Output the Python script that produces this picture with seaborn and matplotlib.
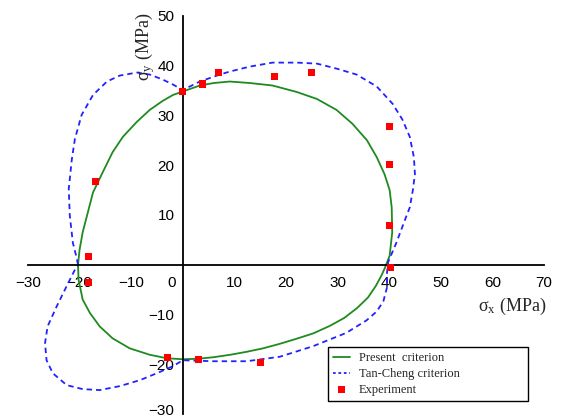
import numpy as np
import pandas as pd
import matplotlib
matplotlib.use("Agg")
import matplotlib.pyplot as plt
import matplotlib.transforms as mtransforms
import seaborn as sns

# Present criterion (closed curve)
present_x = [-20.3, -20.0, -19.4, -18.4, -17.4, -15.5, -13.6, -11.6, -8.9, -6.4, -3.9,
             -1.9, 0.0, 3.3, 6.0, 9.1, 13.0, 17.4, 22.1, 26.0, 29.8, 32.9, 35.7, 37.6,
             39.1, 40.1, 40.5, 40.6, 40.1, 39.2, 38.5, 37.4, 35.9, 33.8, 31.3, 28.5,
             25.3, 22.0, 18.8, 15.6, 12.4, 9.2, 5.9, 3.0, 0.0, -3.1, -6.4, -10.3, -13.6,
             -16.1, -18.0, -19.4, -20.2, -20.3]
present_y = [0.0, 3.0, 6.5, 10.5, 14.5, 18.6, 22.6, 25.7, 28.7, 31.1, 32.9,
             34.1, 34.8, 36.0, 36.5, 36.8, 36.5, 36.0, 34.7, 33.3, 31.1, 28.3, 25.0, 21.6,
             18.2, 15.0, 11.5, 6.5, 1.8, -0.6, -2.2, -4.3, -6.6, -8.7, -10.7, -12.3,
             -13.8, -14.9, -15.9, -16.8, -17.5, -18.1, -18.6, -18.9, -19.0, -18.8, -18.1, -16.8, -14.8,
             -12.4, -9.7, -7.0, -3.0, 0.0]

# Tan-Cheng criterion (closed curve)
tan_x = [-20.3, -20.6, -21.3, -21.9, -22.1, -21.5, -20.9, -19.6, -17.4, -14.7, -12.2,
         -8.9, -6.4, -3.9, -1.9, 0.0, 3.3, 7.2, 9.1, 13.0, 17.4, 22.1, 26.0, 29.8,
         33.7, 37.6, 40.7, 42.6, 44.0, 44.8, 45.0, 44.6, 44.0, 43.4, 41.4, 39.8,
         39.6, 39.6, 38.9, 37.6, 35.6, 31.7, 25.2, 18.8, 12.4, 5.9, 0.0, -1.9, -5.0, -8.3,
         -12.2, -16.1, -19.4, -22.5, -25.2, -26.4, -26.7, -26.2, -24.4, -22.5, -20.9,
         -20.3]
tan_y = [0.0, 1.5, 4.4, 9.9, 15.2, 21.2, 25.3, 30.1, 34.1, 36.8, 38.0,
         38.6, 38.2, 37.2, 36.2, 35.1, 36.8, 38.2, 38.8, 39.8, 40.6, 40.6, 40.4, 39.4,
         38.2, 35.8, 32.3, 29.1, 25.7, 21.6, 18.2, 15.0, 11.5, 9.9, 4.4, 0.5,
         -1.5, -4.5, -7.3, -9.4, -11.2, -13.7, -16.4, -18.5, -19.4, -19.4, -19.2, -20.4, -21.8, -23.2,
         -24.4, -25.2, -25.0, -24.2, -21.8, -19.2, -15.8, -12.4, -8.3, -4.3, -1.0,
         0.0]

# Experiment points
exp_x = [-17.0, 0.0, 3.9, 7.0, 17.8, 25.0, 40.0, 40.0, 40.0, 40.2, -18.3, -18.3, -3.0, 3.0, 15.0]
exp_y = [16.8, 34.8, 36.3, 38.6, 37.9, 38.7, 27.7, 20.2, 7.8, -0.5, 1.6, -3.6, -18.6, -19.0, -19.6]

x_ticks = [-30, -20, -10, 0, 10, 20, 30, 40, 50, 60, 70]
y_ticks = [-30, -20, -10, 10, 20, 30, 40, 50]

present = pd.DataFrame({"x": present_x, "y": present_y})
tan = pd.DataFrame({"x": tan_x, "y": tan_y})
exp = pd.DataFrame({"x": exp_x, "y": exp_y})

sns.set_style("white")
plt.rcParams["font.family"] = ["Liberation Sans", "DejaVu Sans"]
plt.rcParams["mathtext.fontset"] = "custom"
plt.rcParams["mathtext.rm"] = "Liberation Serif"
plt.rcParams["mathtext.it"] = "Liberation Serif:italic"

fig = plt.figure(figsize=(5.62, 4.2), dpi=100)
ax = fig.add_axes([0.0498, 0.0143, 0.918, 0.948])

sns.lineplot(data=present, x="x", y="y", sort=False, estimator=None, ax=ax,
             color="#1f8a1f", linewidth=1.3, label="Present  criterion")
sns.lineplot(data=tan, x="x", y="y", sort=False, estimator=None, ax=ax,
             color="#2222ff", linewidth=1.3, dashes=False, label="Tan-Cheng criterion")
ax.lines[-1].set_dashes([3.0, 2.2])
sns.scatterplot(data=exp, x="x", y="y", ax=ax, marker="s", s=26, color="#ff0000",
                edgecolor="none", label="Experiment", zorder=5)

ax.set_xlim(-30, 70)
ax.set_ylim(-30, 50)
ax.spines["left"].set_position(("data", 0))
ax.spines["bottom"].set_position(("data", 0))
ax.spines["top"].set_visible(False)
ax.spines["right"].set_visible(False)
for s in ("left", "bottom"):
    ax.spines[s].set_linewidth(1.3)
    ax.spines[s].set_color("black")

ax.set_xticks(x_ticks)
ax.set_yticks(y_ticks)
ax.set_xticklabels(["\u2212%d" % -v if v < 0 else str(v) for v in x_ticks])
ax.set_yticklabels(["\u2212%d" % -v if v < 0 else str(v) for v in y_ticks])
ax.tick_params(axis="both", direction="in", length=5, width=1.2, labelsize=11,
               colors="black", pad=6)
ax.tick_params(axis="x", pad=8)

# nudge the x "0" label off the y axis, and the bottom y label up a little
zero_tick = ax.xaxis.get_major_ticks()[3]
zero_tick.label1.set_transform(zero_tick.label1.get_transform() +
                               mtransforms.ScaledTranslation(-0.11, 0, fig.dpi_scale_trans))
low_tick = ax.yaxis.get_major_ticks()[0]
low_tick.label1.set_transform(low_tick.label1.get_transform() +
                              mtransforms.ScaledTranslation(0, 0.04, fig.dpi_scale_trans))

ax.set_xlabel("")
ax.set_ylabel("")
ax.text(0.938, 0.27, r"$\mathrm{\sigma_x}$ (MPa)", transform=ax.transAxes,
        fontsize=13, family="Liberation Serif", ha="center", va="center")
ax.text(0.227, 0.922, r"$\mathrm{\sigma_y}$ (MPa)", transform=ax.transAxes,
        fontsize=13, family="Liberation Serif", ha="center", va="center", rotation=90)

leg = ax.legend(loc="upper left", bbox_to_anchor=(0.581, 0.027, 0.388, 0.141),
                mode="expand", frameon=True, fancybox=False, edgecolor="black",
                framealpha=1, prop={"family": "Liberation Serif", "size": 9},
                handlelength=1.4, handletextpad=0.7, borderpad=0.4,
                labelspacing=0.32, borderaxespad=0)
leg.get_frame().set_linewidth(1.0)
leg.get_lines()[1].set_dashes([1.5, 1.5])

fig.savefig("out.png", dpi=100)
